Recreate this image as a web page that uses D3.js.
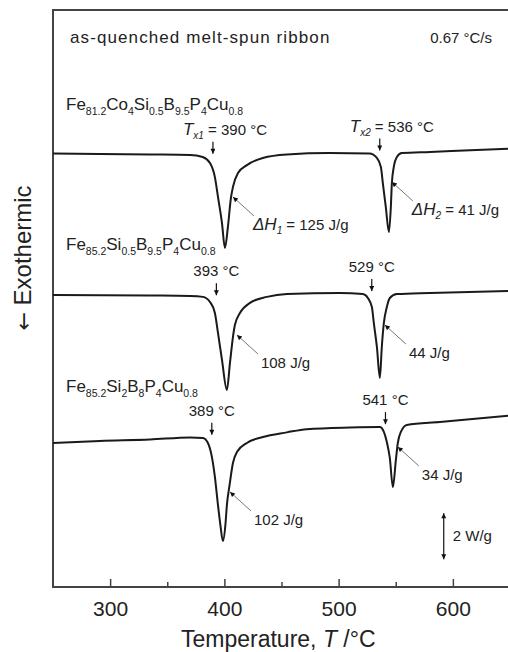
<!DOCTYPE html>
<html>
<head>
<meta charset="utf-8">
<script src="https://cdn.jsdelivr.net/npm/d3@7"></script>
<style>
  body { margin: 0; background: #fff; }
  text { font-family: "Liberation Sans", Arial, sans-serif; fill: #222; }
</style>
</head>
<body>
<figure id="dsc" style="margin:0"></figure>
<script>
// DSC traces (temperature in degC, heat flow in W/g incl. vertical offset)
const curveCo = [[250, 18.78], [291, 18.76], [335, 18.74], [370, 18.72], [381, 18.63], [387.4, 18.37],
  [391.7, 17.76], [394.4, 16.90], [397.9, 15.77], [400.5, 14.69], [403.1, 15.60], [405.7, 16.85],
  [407.5, 17.33], [411.9, 17.94], [419.7, 18.28], [433.7, 18.59], [454.7, 18.74], [492, 18.80],
  [527, 18.78], [533.5, 18.59], [537, 18.20], [538.7, 17.50], [541.3, 16.46], [544, 15.38],
  [545.7, 16.46], [546.6, 17.50], [548.3, 18.20], [551, 18.63], [555.3, 18.80], [580, 18.85], [650, 18.99]];

const curveSi05 = [[250, 12.65], [335, 12.63], [370, 12.61], [381.2, 12.57], [387.4, 12.35], [391.7, 11.87],
  [394.4, 11.01], [397.9, 9.84], [402.2, 8.54], [404.9, 9.71], [407.5, 10.83], [409.2, 11.35],
  [413.6, 11.87], [422.4, 12.31], [437.2, 12.57], [454.7, 12.70], [501, 12.74], [521.2, 12.69],
  [525.6, 12.52], [529.1, 12.13], [530.8, 11.44], [533.5, 10.40], [536.1, 9.06], [537.8, 10.40],
  [539.6, 11.44], [542.2, 12.13], [544.8, 12.52], [551, 12.69], [580, 12.74], [650, 12.83]];

const curveSi2 = [[250, 6.24], [291, 6.33], [335, 6.39], [370, 6.48], [381.2, 6.46], [385.6, 6.24],
  [389.1, 5.63], [391.7, 4.77], [394.4, 3.55], [396.5, 2.69], [398.7, 1.99], [400.9, 2.69],
  [402.2, 3.55], [404.5, 4.40], [407.5, 5.37], [411, 5.85], [419.7, 6.24], [433.7, 6.50],
  [454.7, 6.70], [472, 6.84], [510, 6.91], [536, 6.93], [539.6, 6.72], [542.2, 6.28], [544.8, 5.59],
  [547.5, 4.33], [550.1, 5.50], [551.8, 6.24], [554.5, 6.72], [559.7, 7.02], [588.6, 7.15], [650, 7.43]];

const formulaCo = [['Fe', '81.2'], ['Co', '4'], ['Si', '0.5'], ['B', '9.5'], ['P', '4'], ['Cu', '0.8']];
const formulaSi05 = [['Fe', '85.2'], ['Si', '0.5'], ['B', '9.5'], ['P', '4'], ['Cu', '0.8']];
const formulaSi2 = [['Fe', '85.2'], ['Si', '2'], ['B', '8'], ['P', '4'], ['Cu', '0.8']];

// onset temperatures Tx1, Tx2 and enthalpies dH1, dH2
const onsetCo = [390, 536];
const onsetSi05 = [393, 529];
const onsetSi2 = [389, 541];
const enthalpyCo = [125, 41];
const enthalpySi05 = [108, 44];
const enthalpySi2 = [102, 34];
// points on the peak flanks where the enthalpy leaders touch
const leaderCo = [[407.5, 16.9], [546.6, 17.55]];
const leaderSi05 = [[411.0, 10.92], [540.5, 11.35]];
const leaderSi2 = [[404.9, 4.12], [551.8, 6.07]];

const majorTicks = [300, 400, 500, 600];
const minorTicks = [350, 450, 550, 650];
const scaleBar = { temp: 592, top: 3.2, size: 2 };

const width = 508, height = 652;
const x = d3.scaleLinear().domain([250, 650]).range([53, 510]);
const y = d3.scaleLinear().domain([0, 25]).range([587, 10]);

const svg = d3.select('figure#dsc').append('svg')
  .attr('width', width).attr('height', height);

const defs = svg.append('defs');
defs.append('marker').attr('id', 'head')
  .attr('viewBox', '0 0 10 10').attr('refX', 10).attr('refY', 5)
  .attr('markerWidth', 7).attr('markerHeight', 5).attr('markerUnits', 'userSpaceOnUse')
  .attr('orient', 'auto-start-reverse')
  .append('path').attr('d', 'M0,0 L10,5 L0,10 z').attr('fill', '#111');

// frame
svg.append('path')
  .attr('d', `M${width + 5},${y(25)} H${x(250)} V${y(0)} H${width + 5}`)
  .attr('fill', 'none').attr('stroke', '#444').attr('stroke-width', 2);

// axis ticks point inward
const xAxis = svg.append('g').attr('transform', `translate(0,${y(0)})`)
  .call(d3.axisBottom(x).tickValues(majorTicks).tickSize(-8).tickPadding(14).tickFormat(d3.format('d')));
xAxis.select('.domain').remove();
xAxis.selectAll('line').attr('stroke', '#444').attr('stroke-width', 1.5);
xAxis.selectAll('text').style('font-size', '21px').attr('fill', '#222');

const xMinor = svg.append('g').attr('transform', `translate(0,${y(0)})`)
  .call(d3.axisBottom(x).tickValues(minorTicks).tickSize(-5).tickFormat(''));
xMinor.select('.domain').remove();
xMinor.selectAll('line').attr('stroke', '#444').attr('stroke-width', 1.5);

// axis titles
const xt = svg.append('text').attr('x', 181).attr('y', 647).style('font-size', '23px');
xt.append('tspan').text('Temperature, ');
xt.append('tspan').attr('font-style', 'italic').text('T');
xt.append('tspan').text(' /°C');

const yt = svg.append('text')
  .attr('transform', 'translate(31,258) rotate(-90)')
  .attr('text-anchor', 'middle').style('font-size', '24px');
yt.append('tspan').attr('font-family', 'DejaVu Sans').style('font-size', '22px').text('←');
yt.append('tspan').text(' Exothermic');

svg.append('text').attr('x', 70).attr('y', 43).style('font-size', '17px').style('letter-spacing', '1.1px')
  .text('as-quenched melt-spun ribbon');
svg.append('text').attr('x', 492).attr('y', 43).attr('text-anchor', 'end').style('font-size', '15px')
  .text('0.67 °C/s');

// traces
const line = d3.line().x(d => x(d[0])).y(d => y(d[1])).curve(d3.curveMonotoneX);
const traces = [
  { data: curveCo, formula: formulaCo, fy: 110, onset: onsetCo, dh: enthalpyCo, lead: leaderCo, named: true },
  { data: curveSi05, formula: formulaSi05, fy: 250, onset: onsetSi05, dh: enthalpySi05, lead: leaderSi05, named: false },
  { data: curveSi2, formula: formulaSi2, fy: 392, onset: onsetSi2, dh: enthalpySi2, lead: leaderSi2, named: false }
];

const valueAt = (data, t) => {
  const i = d3.bisector(d => d[0]).left(data, t);
  const a = data[Math.max(i - 1, 0)], b = data[Math.min(i, data.length - 1)];
  return a[0] === b[0] ? a[1] : a[1] + (b[1] - a[1]) * (t - a[0]) / (b[0] - a[0]);
};

traces.forEach(tr => {
  svg.append('path').datum(tr.data)
    .attr('d', line).attr('fill', 'none').attr('stroke', '#1a1a1a').attr('stroke-width', 2);

  // composition label with subscripts
  const f = svg.append('text').attr('x', 66).attr('y', tr.fy).style('font-size', '17px');
  tr.formula.forEach(([el, n], i) => {
    f.append('tspan').attr('dy', i === 0 ? 0 : -5).text(el);
    f.append('tspan').attr('dy', 5).style('font-size', '10.5px').text(n);
  });

  // onset arrows and labels
  tr.onset.forEach((t, j) => {
    const ax = x(t);
    const tip = y(valueAt(tr.data, t - 10)) - 3;
    svg.append('line').attr('x1', ax).attr('x2', ax).attr('y1', tip - 12).attr('y2', tip)
      .attr('stroke', '#111').attr('stroke-width', 1.2).attr('marker-end', 'url(#head)');
    const lbl = svg.append('text').attr('y', tip - 19).style('font-size', '15px');
    if (tr.named) {
      lbl.attr('x', ax - 30);
      lbl.append('tspan').attr('font-style', 'italic').style('font-size', '17px').text('T');
      lbl.append('tspan').attr('font-style', 'italic').attr('dy', 4).style('font-size', '10px').text('x' + (j + 1));
      lbl.append('tspan').attr('dy', -4).text(` = ${t} °C`);
    } else {
      lbl.attr('x', ax).attr('text-anchor', 'middle').text(`${t} °C`);
    }
  });

  // enthalpy leaders
  tr.lead.forEach((p, j) => {
    const px = x(p[0]), py = y(p[1]);
    const ex = px + 21, ey = py + 19;
    svg.append('line').attr('x1', ex).attr('y1', ey).attr('x2', px).attr('y2', py)
      .attr('stroke', '#777').attr('stroke-width', 1).attr('marker-end', 'url(#head)');
    const lbl = svg.append('text').attr('x', ex + (tr.named ? -1 : 3)).attr('y', ey + 14).style('font-size', '15px');
    if (tr.named) {
      lbl.append('tspan').attr('font-style', 'italic').style('font-size', '17px').text('ΔH');
      lbl.append('tspan').attr('font-style', 'italic').attr('dy', 4).style('font-size', '10px').text(j + 1);
      lbl.append('tspan').attr('dy', -4).text(` = ${tr.dh[j]} J/g`);
    } else {
      lbl.text(`${tr.dh[j]} J/g`);
    }
  });
});

// 2 W/g scale bar
const sx = x(scaleBar.temp);
svg.append('line').attr('x1', sx).attr('x2', sx)
  .attr('y1', y(scaleBar.top)).attr('y2', y(scaleBar.top - scaleBar.size))
  .attr('stroke', '#111').attr('stroke-width', 1.2)
  .attr('marker-start', 'url(#head)').attr('marker-end', 'url(#head)');
svg.append('text').attr('x', sx + 9).attr('y', y(scaleBar.top - scaleBar.size / 2) + 5)
  .style('font-size', '15px').text(`${scaleBar.size} W/g`);
</script>
</body>
</html>
